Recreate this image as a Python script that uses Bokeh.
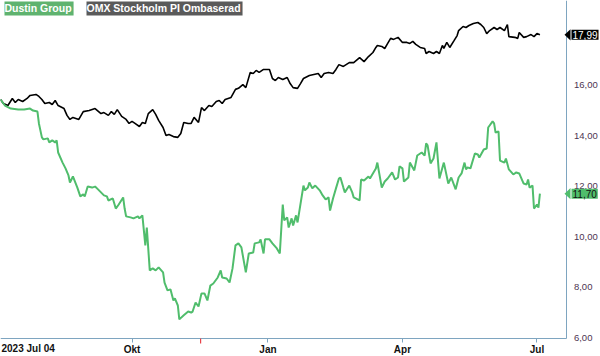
from datetime import datetime, timedelta
from bokeh.plotting import figure
from bokeh.models import Label, FixedTicker, PolyAnnotation, BoxAnnotation
from bokeh.embed import file_html
from bokeh.resources import INLINE

start = "2023-07-04"
x_end = "2024-08-13"
axis_right_date = "2024-07-21T07:00"
series_names = ["Dustin Group", "OMX Stockholm PI Ombaserad"]

omx_days = [0,2,5,8,10,12,15,18,20,24,26,28,30,33,35,37,39,43,45,47,49,53,56,60,64,68,70,73,75,77,79,82,85,87,89,91,94,96,98,100,103,105,107,110,112,114,117,120,122,124,127,129,
            131,134,136,138,141,143,146,148,150,152,156,159,161,164,166,169,171,173,175,178,182,184,186,188,191,194,196,198,201,203,205,209,212,215,217,219,222,225,227,229,232,236,239,243,246,249,252,254,
            255,258,260,262,264,266,269,272,275,277,279,281,284,287,288,290,293,295,297,299,300,302,304,307,309,310,313,315,317,320,323,325,327,329,331,334,336,338,341,343,344,348,350,351,354,356,359,361,363,365]
omx_vals = [15.43,15.27,15.19,15.47,15.31,15.43,15.35,15.47,15.59,15.63,15.55,15.43,15.27,15.31,15.23,15.39,15.19,15.07,14.80,14.64,
            14.72,14.64,14.95,14.99,15.07,14.87,14.91,14.80,14.95,14.84,15.03,14.76,14.64,14.48,14.56,14.48,14.36,14.52,14.48,14.87,
            15.03,14.84,14.60,14.32,14.00,14.04,13.96,13.93,14.08,14.52,14.48,14.48,
            14.72,14.52,15.11,14.99,15.19,15.15,15.35,15.39,15.27,15.43,15.51,15.83,15.87,16.02,15.90,16.50,16.46,16.58,16.50,16.62,
            16.62,16.26,16.18,16.30,16.22,16.30,16.06,15.90,15.87,16.06,16.26,16.38,16.42,16.46,16.30,16.46,16.50,16.46,16.62,16.81,
            16.74,16.89,16.89,17.09,16.93,17.13,17.29,17.49,
            17.57,17.53,17.45,17.65,17.85,17.81,17.89,17.69,17.69,17.65,17.73,17.61,17.49,17.45,17.25,17.33,17.25,17.33,17.25,17.57,
            17.45,17.69,17.49,17.77,17.96,18.16,18.32,18.28,18.36,18.44,18.48,18.40,18.28,18.04,18.16,18.28,18.20,18.28,18.16,18.40,
            17.92,17.89,17.85,18.08,17.89,17.92,18.00,17.92,18.04,17.99]

dustin_days = [0,3,7,12,16,20,22,25,26,28,29,32,33,35,37,38,39,42,44,46,47,49,52,54,56,57,59,62,64,66,70,72,73,76,78,80,83,84,85,88,90,93,94,96,98,99,101,103,105,107,110,111,113,115,117,118,120,121,124,127,129,
               130,132,134,136,138,140,142,144,147,149,150,153,155,157,159,161,163,166,168,171,172,175,176,178,179,182,184,187,189,191,192,194,195,197,198,200,201,205,206,208,209,211,213,216,218,220,222,223,225,227,229,230,232,233,236,238,239,243,244,246,249,250,252,254,
               255,258,260,262,265,267,269,270,272,273,276,277,280,282,284,285,287,288,289,291,293,295,297,300,303,305,308,310,312,314,315,316,318,321,323,324,327,329,330,333,334,335,337,338,341,342,344,347,349,351,354,356,357,358,360,361,363,364,365]
dustin_vals = [15.43,15.19,15.07,15.03,15.03,15.07,14.99,14.95,14.48,13.93,13.85,13.89,13.73,13.81,13.73,13.81,13.33,12.93,12.70,12.42,
               12.14,12.38,11.94,11.59,11.67,11.59,11.98,11.94,11.98,11.87,11.63,11.59,11.43,11.51,11.11,11.27,11.55,11.11,10.80,10.76,
               10.72,10.80,10.72,10.84,9.65,10.36,8.66,8.74,8.66,8.78,8.58,8.18,7.87,7.91,7.47,7.55,7.27,6.72,6.88,7.03,6.99,
               7.03,7.39,7.23,7.75,7.75,7.47,8.06,8.14,8.38,8.66,8.38,8.34,8.18,8.74,9.65,9.73,9.57,8.58,9.33,9.37,
               9.73,9.77,9.89,9.33,9.89,9.89,9.73,9.53,9.33,11.27,10.64,10.76,10.36,10.72,10.44,10.84,10.56,12.02,11.83,11.94,
               12.14,11.91,12.02,11.83,11.63,11.47,11.55,11.03,11.51,11.91,12.30,12.34,11.94,11.75,12.02,11.75,11.55,11.43,12.26,12.22,
               12.38,12.30,12.50,12.70,
               12.93,11.94,12.18,12.30,12.54,12.26,12.34,12.78,12.70,12.18,12.34,12.93,12.62,13.21,13.29,13.33,13.21,13.69,13.61,12.90,
               13.09,13.73,12.30,12.93,12.10,12.34,11.87,12.34,12.50,12.93,12.66,12.74,12.70,13.29,13.25,13.13,13.45,13.49,14.32,14.56,
               14.48,14.12,14.16,13.01,12.93,13.09,12.66,12.46,12.54,12.50,12.10,12.06,12.26,11.94,12.02,11.11,11.27,11.15,11.70]

month_ticks = ["2023-10-01", "2024-01-01", "2024-04-01", "2024-07-01"]
month_labels = ["Okt", "Jan", "Apr", "Jul"]
start_label = "2023 Jul 04"
event_date = "2023-11-16"
y_ticks = [6, 8, 10, 12, 14, 16, 18]
y_labels = ["6,00", "8,00", "10,00", "12,00", "14,00", "16,00", "18,00"]
last_labels = ["11,70", "17,99"]
y_min, y_max, y_floor = 5.25, 19.35, 5.98

GREEN = "#50bd6c"
BLACK = "#000000"
AXIS = "#7ea5c0"
FONT = "Liberation Sans"

def ms(s):
    return (datetime.fromisoformat(s) - datetime(1970, 1, 1)).total_seconds() * 1000.0

t0 = datetime.fromisoformat(start)
omx_x = [t0 + timedelta(days=d) for d in omx_days]
dustin_x = [t0 + timedelta(days=d) for d in dustin_days]

p = figure(width=600, height=356, x_axis_type="datetime",
           x_range=(ms(start), ms(x_end)), y_range=(y_min, y_max),
           y_axis_location="right", output_backend="svg", toolbar_location=None,
           min_border=0)
p.outline_line_color = None
p.grid.grid_line_color = None
p.background_fill_color = "white"
p.border_fill_color = "white"

p.line(omx_x, omx_vals, line_color=BLACK, line_width=1.6)
p.line(dustin_x, dustin_vals, line_color=GREEN, line_width=2)

xa = p.xaxis[0]
xa.fixed_location = y_floor
xa.bounds = (ms(start), ms(axis_right_date))
xa.ticker = FixedTicker(ticks=[ms(s) for s in month_ticks])
xa.major_label_overrides = {ms(s): l for s, l in zip(month_ticks, month_labels)}
xa.axis_line_color = AXIS
xa.major_tick_line_color = AXIS
xa.major_tick_out = 4
xa.major_tick_in = 0
xa.minor_tick_line_color = None
xa.major_label_standoff = 2
xa.major_label_text_font = FONT
xa.major_label_text_font_style = "bold"
xa.major_label_text_font_size = "10px"
xa.major_label_text_color = "#111111"

ya = p.yaxis[0]
ya.fixed_location = ms(axis_right_date)
ya.bounds = (y_floor, y_max)
ya.ticker = FixedTicker(ticks=y_ticks)
ya.major_label_overrides = {t: l for t, l in zip(y_ticks, y_labels)}
ya.axis_line_color = AXIS
ya.major_tick_line_color = None
ya.minor_tick_line_color = None
ya.major_tick_out = 0
ya.major_tick_in = 0
ya.major_label_standoff = 7
ya.major_label_text_font = FONT
ya.major_label_text_font_size = "9.5px"
ya.major_label_text_color = "#4e3552"

# start date label
p.add_layout(Label(x=1, y=8, x_units="screen", y_units="screen", text=start_label,
                   text_font=FONT, text_font_style="bold", text_font_size="10px",
                   text_color="#111111", text_align="left", text_baseline="middle"))

# event tick (red)
p.add_layout(BoxAnnotation(left=ms(event_date), right=ms(event_date) + 0.8 * 86400000,
                           bottom=13, top=18, bottom_units="screen", top_units="screen",
                           fill_color="#e8434a", fill_alpha=1, line_color=None))

# legend tags
p.add_layout(Label(x=4, y=355, x_units="screen", y_units="screen", text=series_names[0],
                   text_font=FONT, text_font_style="bold", text_font_size="10.5px",
                   text_color="white", text_align="left", text_baseline="top",
                   background_fill_color="#5fb36f", padding=(0, 2, 0, 2)))
p.add_layout(Label(x=86, y=355, x_units="screen", y_units="screen", text=series_names[1],
                   text_font=FONT, text_font_style="bold", text_font_size="10.5px",
                   text_color="white", text_align="left", text_baseline="top",
                   background_fill_color="#5a5a5a", padding=(0, 2, 0, 2)))

# last value tags
for val, txt, col, tcol in [(dustin_vals[-1], last_labels[0], GREEN, "#111111"),
                            (omx_vals[-1], last_labels[1], "#000000", "white")]:
    p.add_layout(PolyAnnotation(xs=[564, 570, 570], ys=[val, val + 0.22, val - 0.22],
                                xs_units="screen", ys_units="data",
                                fill_color=col, fill_alpha=1, line_color=None))
    p.add_layout(Label(x=571, y=val, x_units="screen", y_units="data", text=txt,
                       text_font=FONT, text_font_size="10px", text_color=tcol,
                       text_align="left", text_baseline="middle",
                       background_fill_color=col, padding=1))

open("out.html", "w").write(file_html(p, INLINE))
